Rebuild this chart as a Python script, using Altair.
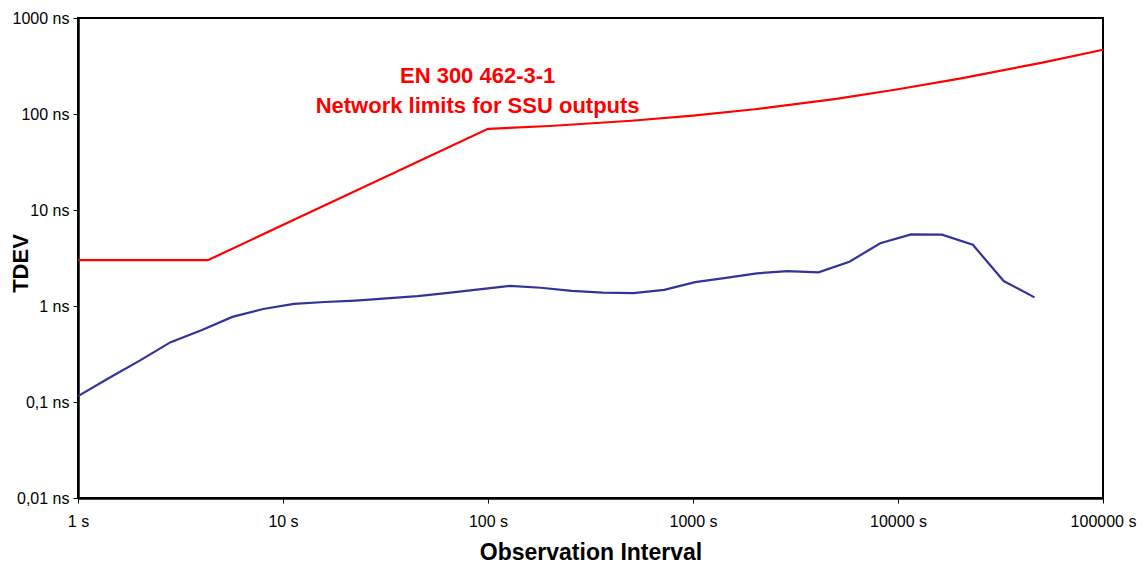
import altair as alt
import pandas as pd

# Limit mask (red)
limit_tau = [1, 4.3, 100, 200, 500, 1000, 2000, 5000, 10000, 20000, 50000, 100000]
limit_ns = [3, 3, 70, 75, 85, 96, 112, 144, 181, 234, 341, 467]

# Measured TDEV (blue)
meas_tau = [1, 1.41, 2, 2.83, 4, 5.66, 8, 11.3, 16, 22.6, 32, 45.3, 64, 90.5,
            128, 181, 256, 362, 512, 724, 1024, 1448, 2048, 2896, 4096, 5793,
            8192, 11585, 16384, 23170, 32768, 46341]
meas_ns = [0.115, 0.177, 0.27, 0.42, 0.56, 0.77, 0.93, 1.05, 1.10, 1.14, 1.20, 1.27,
           1.37, 1.49, 1.62, 1.55, 1.44, 1.38, 1.36, 1.47, 1.77, 1.96, 2.19, 2.31,
           2.24, 2.89, 4.50, 5.58, 5.53, 4.35, 1.82, 1.23]

x_ticks = [1, 10, 100, 1000, 10000, 100000]
y_ticks = [0.01, 0.1, 1, 10, 100, 1000]

annot_lines = ["EN 300 462-3-1", "Network limits for SSU outputs"]
annot_tau = [89]
annot_ns = [246]

df_lim = pd.DataFrame({"tau": limit_tau, "ns": limit_ns})
df_meas = pd.DataFrame({"tau": meas_tau, "ns": meas_ns})
df_ann = pd.DataFrame({"tau": annot_tau, "ns": annot_ns})

FONT = "Liberation Sans"

xs = alt.Scale(type="log", domain=[1, 100000], nice=False)
ys = alt.Scale(type="log", domain=[0.01, 1000], nice=False)

xax = alt.Axis(values=x_ticks, labelExpr="datum.value + ' s'", title="Observation Interval",
               grid=False, domainColor="black", domainWidth=2.5, tickColor="black",
               tickSize=5, labelFont=FONT, labelFontSize=16, labelColor="black",
               labelFlush=False, labelPadding=10, labelOverlap=False,
               titleFont=FONT, titleFontSize=23, titleFontWeight="bold",
               titleColor="black", titlePadding=12)
yax = alt.Axis(values=y_ticks,
               labelExpr="replace(toString(datum.value), '.', ',') + ' ns'",
               title="TDEV", grid=False, domainColor="black", domainWidth=2.5,
               tickColor="black", tickSize=5, labelFont=FONT, labelFontSize=16,
               labelFlush=False, labelOverlap=False,
               labelColor="black", labelPadding=4, titleFont=FONT, titleFontSize=22,
               titleFontWeight="bold", titleColor="black", titleX=-46, titleY=245)

lim = alt.Chart(df_lim).mark_line(color="#FF0000", strokeWidth=2.2).encode(
    x=alt.X("tau:Q", scale=xs, axis=xax),
    y=alt.Y("ns:Q", scale=ys, axis=yax),
)
meas = alt.Chart(df_meas).mark_line(color="#333399", strokeWidth=2.2).encode(
    x=alt.X("tau:Q", scale=xs),
    y=alt.Y("ns:Q", scale=ys),
)
ann = alt.Chart(df_ann).mark_text(
    text=annot_lines, color="#FF0000", font=FONT, fontSize=22, fontWeight="bold",
    lineHeight=30, align="center", baseline="middle"
).encode(
    x=alt.X("tau:Q", scale=xs),
    y=alt.Y("ns:Q", scale=ys),
)

chart = alt.layer(lim, meas, ann).properties(
    width=1025, height=480,
    autosize=alt.AutoSizeParams(type="none"),
    padding={"left": 70, "top": 10, "right": 35, "bottom": 68},
    background="white",
).configure_view(stroke="black", strokeWidth=2)

chart.save("out.html", embed_options={"renderer": "svg", "actions": False})
